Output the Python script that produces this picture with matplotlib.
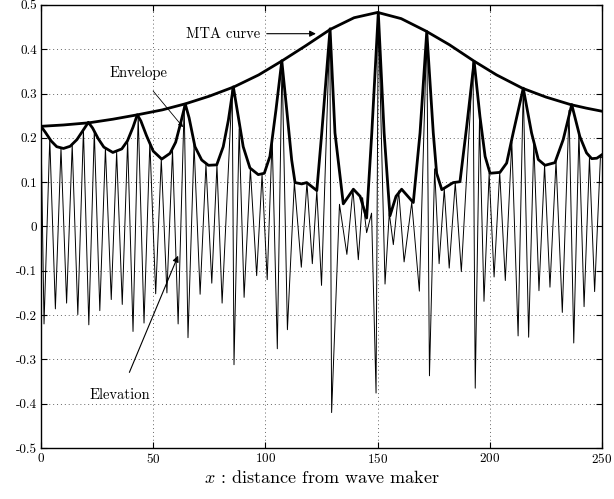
import matplotlib
matplotlib.use('Agg')
import matplotlib.pyplot as plt
import numpy as np

plt.rcParams['font.family'] = 'cmr10'
plt.rcParams['mathtext.fontset'] = 'cm'
plt.rcParams['axes.unicode_minus'] = False
plt.rcParams['axes.formatter.use_mathtext'] = True

# elevation: local extrema (x, eta)
elev_x = [0, 1.34, 3.9, 6.4, 8.9, 11.4, 13.9, 16.4, 18.9, 21.3, 23.75, 26.2, 28.7, 31.3,
          33.7, 36.2, 38.6, 41.0, 43.3, 45.9, 48.5, 51.1, 53.6, 56.1, 58.6, 61.1, 63.8,
          65.5, 68.2, 70.9, 73.5, 76.1, 78.4, 80.7, 85.2, 86.0, 88.3, 90.5, 93.3, 96.1,
          98.5, 100.8, 103.0, 105.3, 107.4, 109.8, 112.9, 116.0, 118.5, 120.9, 122.9,
          125.0, 128.7, 129.5, 133.0, 136.3, 139.0, 141.4, 143.3, 145.1, 147.3, 149.3,
          150.3, 153.3, 155.2, 157.0, 159.4, 161.8, 165.2, 168.6, 171.9, 173.1, 175.4,
          177.4, 179.7, 181.9, 184.6, 187.3, 192.5, 193.5, 195.4, 197.4, 199.7, 201.9,
          204.4, 206.9, 209.8, 212.6, 214.9, 217.3, 219.6, 221.9, 224.4, 226.8, 229.5,
          232.3, 235.3, 237.4, 239.7, 242.0, 244.4, 246.7, 249.3, 250]
elev_y = [0.215, -0.220, 0.198, -0.186, 0.177, -0.173, 0.185, -0.199, 0.218, -0.222, 0.215,
          -0.190, 0.177, -0.165, 0.168, -0.176, 0.193, -0.237, 0.250, -0.218, 0.190, -0.152,
          0.152, -0.150, 0.172, -0.220, 0.272, -0.251, 0.185, -0.153, 0.141, -0.128, 0.139,
          -0.173, 0.315, -0.312, 0.220, -0.160, 0.130, -0.111, 0.118, -0.120, 0.200, -0.276,
          0.374, -0.233, 0.100, -0.092, 0.099, -0.084, 0.081, -0.133, 0.446, -0.420, 0.050,
          -0.063, 0.084, -0.075, 0.065, -0.014, 0.030, -0.376, 0.483, -0.130, 0.030, -0.041,
          0.080, -0.080, 0.054, -0.146, 0.440, -0.337, 0.130, -0.084, 0.085, -0.094, 0.099,
          -0.102, 0.372, -0.365, 0.240, -0.169, 0.120, -0.114, 0.122, -0.122, 0.190, -0.247,
          0.312, -0.250, 0.190, -0.145, 0.138, -0.137, 0.148, -0.194, 0.262, -0.263, 0.210,
          -0.181, 0.155, -0.147, 0.158, 0.155]

# envelope
env_x = [0, 2, 4.5, 7, 10, 13, 16, 18.5, 21.1,
         23, 25.5, 28, 32, 36, 38.5, 41, 42.9,
         44.5, 47, 50, 53.8, 57.5, 60, 62.3, 64.3,
         66, 68.6, 71.6, 74.6, 78.3, 81.2, 83.5, 85.7,
         87.9, 90.1, 93.1, 96.8, 99.5, 102.0, 104.7, 107.3,
         109.5, 111.7, 113.2, 116.2, 118.4, 122.9, 125.1, 128.8,
         131.0, 134.7, 139.2, 142.2, 145.1, 147.4, 150.3,
         152.9, 155.5, 158.2, 160.7, 165.9, 168.9, 171.9,
         174.8, 176.3, 178.6, 183.7, 186.7, 189.7, 193.0,
         195.6, 197.9, 200.1, 204.5, 207.5, 210.4, 214.9,
         218.6, 221.6, 224.6, 229.0, 232.7, 236.5,
         240.1, 243.1, 245.4, 247.7, 250]
env_y = [0.226, 0.212, 0.193, 0.180, 0.176, 0.181, 0.196, 0.215, 0.235,
         0.222, 0.198, 0.179, 0.167, 0.175, 0.193, 0.224, 0.252,
         0.238, 0.205, 0.170, 0.152, 0.165, 0.190, 0.235, 0.276,
         0.245, 0.180, 0.150, 0.138, 0.139, 0.180, 0.240, 0.315,
         0.248, 0.180, 0.132, 0.117, 0.120, 0.158, 0.263, 0.374,
         0.263, 0.150, 0.099, 0.096, 0.099, 0.081, 0.211, 0.446,
         0.211, 0.051, 0.084, 0.068, 0.019, 0.211, 0.483,
         0.211, 0.024, 0.068, 0.084, 0.054, 0.211, 0.440,
         0.211, 0.120, 0.083, 0.099, 0.101, 0.226, 0.3725,
         0.248, 0.158, 0.120, 0.122, 0.143, 0.211, 0.312,
         0.211, 0.151, 0.138, 0.144, 0.196, 0.275,
         0.203, 0.166, 0.153, 0.154, 0.162]

# MTA curve
mta_x = [0, 10, 21.5, 32, 43, 54, 64.5, 75, 86, 97, 107.5, 118, 129, 139.5, 150,
         160.5, 171.5, 182, 193, 203, 214.5, 225, 236, 243, 250]
mta_y = [0.226, 0.229, 0.234, 0.242, 0.252, 0.263, 0.277, 0.294, 0.315, 0.342, 0.374,
         0.408, 0.445, 0.471, 0.483, 0.469, 0.441, 0.410, 0.373, 0.342, 0.312, 0.292,
         0.275, 0.267, 0.260]

xticks = [0, 50, 100, 150, 200, 250]
yticks = [-0.5, -0.4, -0.3, -0.2, -0.1, 0, 0.1, 0.2, 0.3, 0.4, 0.5]
ylabels = ['-0.5', '-0.4', '-0.3', '-0.2', '-0.1', '0', '0.1', '0.2', '0.3', '0.4', '0.5']

fig = plt.figure(figsize=(6.14, 4.99), dpi=100)
ax = fig.add_axes([0.0668, 0.1022, 0.9137, 0.888])

ax.plot(elev_x, elev_y, 'k', lw=0.7)
ax.plot(env_x, env_y, 'k', lw=2.0, solid_joinstyle='round')
ax.plot(mta_x, mta_y, 'k', lw=2.0)

ax.set_xlim(0, 250)
ax.set_ylim(-0.5, 0.5)
ax.set_xticks(xticks)
ax.set_yticks(yticks)
ax.set_yticklabels(ylabels)
ax.tick_params(direction='in', top=True, right=True, length=4, labelsize=9.5, pad=3)
ax.grid(True, color='0.4', linestyle=(0, (1, 3)), lw=0.7)
for s in ax.spines.values():
    s.set_linewidth(1.0)

ax.set_xlabel(r'$x$ : distance from wave maker', fontsize=13, labelpad=2)

arr = dict(arrowstyle='-|>', lw=0.8, color='k', mutation_scale=9, shrinkA=3, shrinkB=0)
ax.annotate('MTA curve', xy=(122.5, 0.435), xytext=(97.5, 0.435), fontsize=10.5,
            ha='right', va='center', arrowprops=arr)
ax.annotate('Envelope', xy=(63.3, 0.224), xytext=(43.2, 0.347), fontsize=10.5,
            ha='center', va='center',
            arrowprops=dict(arrowstyle='-|>', lw=0.6, color='k', mutation_scale=7,
                            shrinkA=8, shrinkB=0))
ax.annotate('Elevation', xy=(61.1, -0.066), xytext=(35.2, -0.38), fontsize=10.5,
            ha='center', va='center',
            arrowprops=dict(arrowstyle='-|>', lw=0.8, color='k', mutation_scale=9,
                            shrinkA=10, shrinkB=0))

fig.savefig('out.png', dpi=100)
